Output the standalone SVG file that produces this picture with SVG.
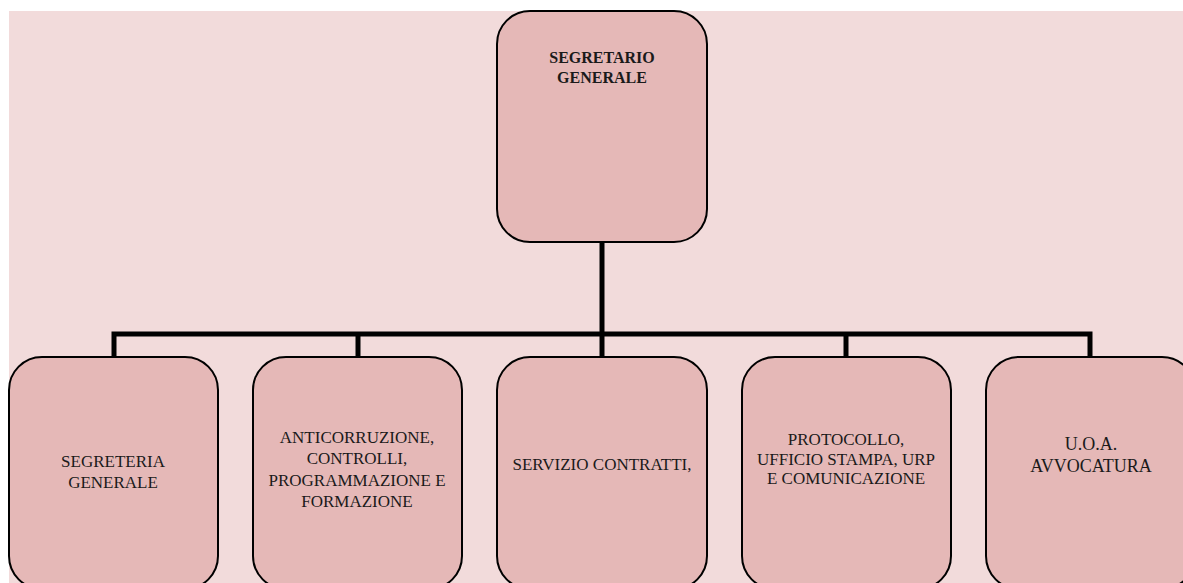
<svg xmlns="http://www.w3.org/2000/svg" width="1183" height="583" viewBox="0 0 1183 583">
<style>
.box{fill:#E5B8B7;stroke:#000;stroke-width:2}
.t{font-family:"Liberation Serif","Times New Roman",serif;font-size:17px;fill:#1a1a1a;text-anchor:middle}
.b{font-weight:bold;font-size:16px}
.tn{font-size:17px}
.conn{stroke:#000;stroke-width:5;fill:none}
</style>
<rect x="9" y="11" width="1174" height="572" fill="#F2DBDB"/>
<g id="connectors">
<line class="conn" x1="602" y1="242" x2="602" y2="334"/>
<polyline class="conn" points="114,357 114,334 1090,334 1090,357"/>
<line class="conn" x1="358" y1="334" x2="358" y2="357"/>
<line class="conn" x1="602" y1="334" x2="602" y2="357"/>
<line class="conn" x1="846" y1="334" x2="846" y2="357"/>
</g>
<g id="segretario-generale">
<rect class="box" x="497" y="11" width="210" height="231" rx="33"/>
<text class="t b" x="602" y="63">SEGRETARIO</text>
<text class="t b" x="602" y="83">GENERALE</text>
</g>
<g id="segreteria-generale">
<rect class="box" x="9" y="357" width="209" height="232" rx="33"/>
<text class="t" x="113" y="467">SEGRETERIA</text>
<text class="t" x="113" y="488">GENERALE</text>
</g>
<g id="anticorruzione">
<rect class="box" x="253" y="357" width="209" height="232" rx="33"/>
<text class="t" x="357" y="443">ANTICORRUZIONE,</text>
<text class="t" x="357" y="464">CONTROLLI,</text>
<text class="t" x="357" y="486">PROGRAMMAZIONE E</text>
<text class="t" x="357" y="507">FORMAZIONE</text>
</g>
<g id="servizio-contratti">
<rect class="box" x="497" y="357" width="210" height="232" rx="33"/>
<text class="t" x="602" y="470">SERVIZIO CONTRATTI,</text>
</g>
<g id="protocollo">
<rect class="box" x="742" y="357" width="209" height="232" rx="33"/>
<text class="t tn" x="846" y="445">PROTOCOLLO,</text>
<text class="t tn" x="846" y="465">UFFICIO STAMPA, URP</text>
<text class="t tn" x="846" y="484">E COMUNICAZIONE</text>
</g>
<g id="uoa-avvocatura">
<rect class="box" x="986" y="357" width="209" height="232" rx="33"/>
<text class="t" x="1091" y="450" style="font-size:18px">U.O.A.</text>
<text class="t" x="1091" y="472" style="font-size:18px">AVVOCATURA</text>
</g>
</svg>
